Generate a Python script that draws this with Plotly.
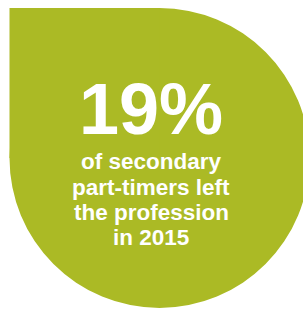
import plotly.graph_objects as go

# Content
headline = "19%"
caption_lines = ["of secondary", "part-timers left", "the profession", "in 2015"]
caption_y = [161, 187.5, 212.8, 237.8]
headline_y = 108.5
text_x = 151

fill_color = "#abba25"

PAGE_W, PAGE_H = 303, 309

fig = go.Figure()
fig.add_trace(go.Scatter(x=[0, PAGE_W], y=[0, PAGE_H], mode="markers",
                         marker=dict(opacity=0), hoverinfo="skip", showlegend=False))

shapes = [
    dict(type="circle", xref="x", yref="y", x0=9.5, x1=309.5, y0=8, y1=308,
         fillcolor=fill_color, line=dict(width=0), layer="below"),
    dict(type="rect", xref="x", yref="y", x0=9.5, x1=159.5, y0=8, y1=158,
         fillcolor=fill_color, line=dict(width=0), layer="below"),
]

annotations = [dict(x=text_x, y=headline_y, xref="x", yref="y", text="<b>%s</b>" % headline,
                    showarrow=False, xanchor="center", yanchor="middle",
                    font=dict(family="Liberation Sans, Arial, sans-serif", size=72, color="white"))]
for line, yy in zip(caption_lines, caption_y):
    annotations.append(dict(x=text_x, y=yy, xref="x", yref="y", text="<b>%s</b>" % line,
                            showarrow=False, xanchor="center", yanchor="middle",
                            font=dict(family="Liberation Sans, Arial, sans-serif", size=22.5, color="white")))

fig.update_layout(
    width=PAGE_W, height=PAGE_H, margin=dict(l=0, r=0, t=0, b=0),
    paper_bgcolor="white", plot_bgcolor="white",
    xaxis=dict(range=[0, PAGE_W], visible=False, fixedrange=True),
    yaxis=dict(range=[PAGE_H, 0], visible=False, fixedrange=True),
    shapes=shapes, annotations=annotations, showlegend=False,
)
fig.write_html("out.html", config={"displayModeBar": False},
               post_script="document.body.style.margin='0';document.body.style.overflow='hidden';")
